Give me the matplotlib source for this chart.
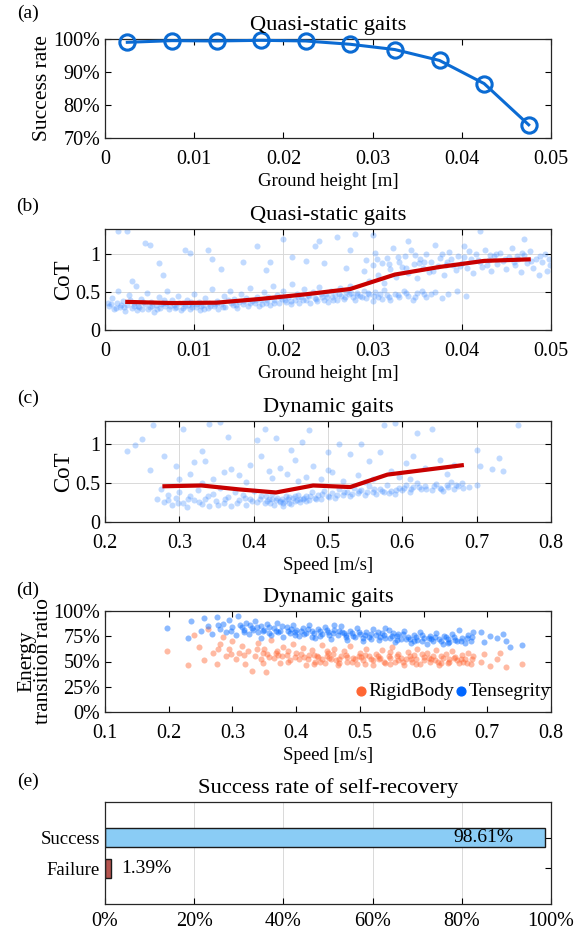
import numpy as np
import matplotlib
matplotlib.use("Agg")
import matplotlib.pyplot as plt

plt.rcParams['font.family'] = ['Liberation Serif', 'DejaVu Serif']
plt.rcParams['font.size'] = 13.5
plt.rcParams['axes.linewidth'] = 0.9
plt.rcParams['axes.edgecolor'] = '#262626'
plt.rcParams['xtick.direction'] = 'in'
plt.rcParams['ytick.direction'] = 'in'
plt.rcParams['xtick.top'] = True
plt.rcParams['ytick.right'] = True
plt.rcParams['xtick.major.size'] = 4
plt.rcParams['ytick.major.size'] = 4
plt.rcParams['xtick.major.pad'] = 8.5
plt.rcParams['ytick.major.pad'] = 3.5
plt.rcParams['xtick.labelsize'] = 14.5
plt.rcParams['ytick.labelsize'] = 14.5

# (a) success rate vs ground height
heights = [0.0025, 0.0075, 0.0125, 0.0175, 0.0225, 0.0275, 0.0325, 0.0375, 0.0425, 0.0475]
success_rate = [99.0, 99.5, 99.4, 99.6, 99.4, 98.4, 96.8, 93.5, 86.5, 74.0]

# (b) CoT quasi-static: mean line + scatter cloud
qs_cot_mean = [0.37, 0.355, 0.36, 0.41, 0.47, 0.54, 0.73, 0.83, 0.91, 0.93]
qs_points = [
    (0.0005,0.31),(0.0008,0.42),(0.0010,0.27),(0.0013,0.35),(0.0015,0.52),(0.0017,0.30),(0.0020,0.38),
    (0.0022,0.25),(0.0025,0.33),(0.0027,0.46),(0.0030,0.29),(0.0032,0.36),(0.0035,0.58),(0.0037,0.31),
    (0.0040,0.41),(0.0042,0.27),(0.0045,0.34),(0.0047,0.49),(0.0050,0.30),(0.0052,0.37),(0.0055,0.24),
    (0.0057,0.33),(0.0060,0.44),(0.0062,0.29),(0.0065,0.36),(0.0067,0.31),(0.0070,0.52),(0.0072,0.27),
    (0.0075,0.39),(0.0077,0.33),(0.0080,0.30),(0.0082,0.45),(0.0085,0.26),(0.0087,0.35),(0.0090,0.31),
    (0.0092,0.40),(0.0095,0.28),(0.0097,0.34),(0.0100,0.48),(0.0102,0.30),(0.0105,0.37),(0.0107,0.26),
    (0.0110,0.33),(0.0112,0.42),(0.0115,0.29),(0.0117,0.36),(0.0120,0.54),(0.0122,0.31),(0.0125,0.38),
    (0.0127,0.28),(0.0003,0.36),(0.0018,0.33),(0.0033,0.32),(0.0048,0.28),(0.0063,0.34),(0.0078,0.29),
    (0.0093,0.33),(0.0108,0.31),(0.0123,0.34),(0.0012,0.29),(0.0038,0.30),(0.0068,0.35),(0.0098,0.30),
    (0.0007,0.34),(0.0021,0.30),(0.0028,0.40),(0.0036,0.26),(0.0043,0.37),(0.0053,0.32),(0.0058,0.28),
    (0.0066,0.40),(0.0073,0.32),(0.0083,0.35),(0.0088,0.29),(0.0096,0.37),(0.0103,0.34),(0.0111,0.28),
    (0.0118,0.32),(0.0126,0.35),(0.0132,0.30),(0.0141,0.36),(0.0147,0.33),(0.0156,0.38),(0.0162,0.35),
    (0.0169,0.39),(0.0176,0.34),(0.0182,0.40),(0.0189,0.36),(0.0196,0.44),(0.0202,0.40),(0.0209,0.38),
    (0.0216,0.43),(0.0222,0.40),(0.0229,0.45),(0.0236,0.41),(0.0242,0.47),(0.0249,0.43),(0.0256,0.40),
    (0.0262,0.48),(0.0269,0.44),(0.0276,0.49),(0.0282,0.46),(0.0288,0.43),(0.0295,0.49),(0.0302,0.45),
    (0.0308,0.48),(0.0318,0.43),(0.0328,0.46),(0.0338,0.49),(0.0348,0.44),(0.0358,0.47),
    (0.0130,0.34),(0.0133,0.45),(0.0135,0.30),(0.0138,0.39),(0.0140,0.52),(0.0143,0.33),(0.0145,0.41),
    (0.0148,0.29),(0.0150,0.37),(0.0153,0.48),(0.0155,0.34),(0.0158,0.42),(0.0160,0.31),(0.0163,0.55),
    (0.0165,0.38),(0.0168,0.35),(0.0170,0.44),(0.0173,0.32),(0.0175,0.40),(0.0178,0.50),(0.0180,0.36),
    (0.0183,0.43),(0.0185,0.33),(0.0188,0.58),(0.0190,0.39),(0.0193,0.46),(0.0195,0.35),(0.0198,0.41),
    (0.0200,0.52),(0.0203,0.37),(0.0205,0.44),(0.0208,0.34),(0.0210,0.61),(0.0213,0.40),(0.0215,0.47),
    (0.0218,0.36),(0.0220,0.43),(0.0223,0.54),(0.0225,0.39),(0.0228,0.46),(0.0230,0.35),(0.0233,0.50),
    (0.0235,0.42),(0.0238,0.38),(0.0240,0.57),(0.0243,0.44),(0.0245,0.40),(0.0248,0.48),(0.0250,0.37),
    (0.0253,0.52),(0.0255,0.43),(0.0258,0.46),(0.0260,0.39),(0.0263,0.55),(0.0265,0.45),(0.0268,0.41),
    (0.0270,0.50),(0.0273,0.47),(0.0275,0.58),(0.0278,0.44),
    (0.0280,0.40),(0.0283,0.49),(0.0286,0.45),(0.0290,0.52),(0.0293,0.42),(0.0296,0.47),(0.0300,0.38),
    (0.0303,0.50),(0.0306,0.44),(0.0310,0.41),(0.0313,0.53),(0.0316,0.46),(0.0320,0.39),(0.0325,0.48),
    (0.0330,0.43),(0.0335,0.51),(0.0340,0.45),(0.0345,0.40),(0.0350,0.49),(0.0355,0.52),(0.0360,0.44),
    (0.0365,0.47),(0.0370,0.50),(0.0378,0.42),(0.0385,0.48),(0.0395,0.52),(0.0405,0.45),
    (0.0290,0.78),(0.0293,0.92),(0.0296,0.65),(0.0300,0.85),(0.0303,1.02),(0.0306,0.72),(0.0310,0.88),
    (0.0313,0.62),(0.0316,0.95),(0.0320,0.80),(0.0323,1.08),(0.0326,0.70),(0.0330,0.90),(0.0333,0.83),
    (0.0336,0.98),(0.0340,0.75),(0.0343,1.05),(0.0346,0.87),(0.0350,0.68),(0.0353,0.93),(0.0356,0.81),
    (0.0360,1.00),(0.0363,0.77),(0.0366,0.89),(0.0370,1.12),(0.0373,0.84),(0.0376,0.95),(0.0380,0.72),
    (0.0383,0.90),(0.0386,1.03),(0.0390,0.86),(0.0393,0.79),(0.0396,0.97),(0.0400,0.88),(0.0403,1.10),
    (0.0406,0.82),(0.0410,0.94),(0.0413,0.75),(0.0416,1.00),(0.0420,0.89),(0.0423,0.83),(0.0426,1.06),
    (0.0430,0.92),(0.0433,0.78),(0.0436,0.97),(0.0440,0.87),(0.0443,1.02),(0.0446,0.91),(0.0450,0.80),
    (0.0453,0.96),(0.0456,1.08),(0.0460,0.85),(0.0463,0.93),(0.0466,0.76),(0.0470,0.99),(0.0473,0.88),
    (0.0476,1.04),(0.0480,0.82),(0.0483,0.94),(0.0486,0.72),(0.0490,0.90),(0.0493,1.00),(0.0496,0.78),
    (0.0499,0.86),(0.0305,0.93),(0.0318,0.87),(0.0328,0.96),(0.0338,0.82),(0.0348,0.99),(0.0358,0.90),
    (0.0368,0.78),(0.0378,1.00),(0.0388,0.93),(0.0398,0.84),(0.0408,1.04),(0.0418,0.92),(0.0428,0.86),
    (0.0438,1.00),(0.0448,0.94),(0.0458,0.89),(0.0468,1.02),(0.0478,0.91),(0.0488,0.97),(0.0498,0.93),
    (0.0402,0.96),(0.0432,0.99),(0.0462,0.98),(0.0382,0.86),(0.0352,0.88),
    (0.0015,1.30),(0.0025,1.31),(0.0045,1.14),(0.0050,1.12),(0.0060,0.88),(0.0090,1.05),(0.0095,1.01),
    (0.0115,1.06),(0.0120,0.93),(0.0130,0.80),(0.0155,0.89),(0.0170,1.10),(0.0185,0.90),(0.0200,1.20),
    (0.0210,0.96),(0.0225,0.91),(0.0235,1.10),(0.0245,0.88),(0.0260,1.22),(0.0270,0.82),(0.0280,1.27),
    (0.0275,1.05),(0.0240,1.17),(0.0300,1.25),(0.0340,1.17),(0.0420,1.30),(0.0470,1.20),(0.0180,0.79),
    (0.0065,0.73),(0.0030,0.64),
]

# (c) CoT dynamic: mean line + scatter cloud
speeds_mean = [0.28, 0.33, 0.38, 0.43, 0.48, 0.53, 0.58, 0.63, 0.68]
dyn_cot_mean = [0.46, 0.47, 0.42, 0.38, 0.47, 0.45, 0.61, 0.67, 0.73]
dyn_points = [
    (0.270,0.30),(0.275,0.42),(0.280,0.26),(0.285,0.35),(0.290,0.22),(0.295,0.31),(0.300,0.38),
    (0.305,0.25),(0.310,0.19),(0.315,0.33),(0.320,0.28),(0.325,0.41),(0.330,0.23),(0.335,0.30),
    (0.340,0.20),(0.345,0.36),(0.350,0.27),(0.355,0.44),(0.360,0.24),(0.365,0.32),(0.370,0.21),
    (0.375,0.38),(0.380,0.28),(0.385,0.35),(0.390,0.22),(0.395,0.30),(0.400,0.40),(0.405,0.26),
    (0.410,0.33),(0.415,0.24),(0.420,0.29),(0.425,0.36),(0.428,0.22),(0.432,0.31),(0.436,0.27),
    (0.440,0.25),(0.443,0.34),(0.446,0.29),(0.450,0.23),(0.453,0.31),(0.456,0.27),(0.460,0.35),
    (0.463,0.26),(0.466,0.30),(0.470,0.33),(0.474,0.28),(0.478,0.38),(0.482,0.31),(0.486,0.35),
    (0.490,0.29),(0.495,0.40),(0.500,0.33),(0.505,0.37),(0.510,0.31),(0.515,0.42),(0.520,0.35),
    (0.525,0.39),(0.530,0.33),(0.535,0.44),(0.540,0.37),(0.545,0.41),(0.550,0.35),(0.555,0.46),
    (0.560,0.39),(0.565,0.36),(0.570,0.43),(0.575,0.38),(0.580,0.48),(0.585,0.40),(0.590,0.36),
    (0.595,0.44),(0.600,0.41),(0.605,0.47),(0.610,0.39),(0.615,0.45),(0.620,0.50),(0.625,0.42),
    (0.630,0.46),(0.640,0.41),(0.645,0.49),(0.650,0.44),(0.655,0.40),(0.660,0.47),(0.665,0.52),
    (0.670,0.43),(0.675,0.46),(0.680,0.50),(0.690,0.45),(0.700,0.48),(0.440,0.21),(0.425,0.30),
    (0.455,0.33),(0.435,0.26),(0.418,0.27),(0.447,0.24),(0.462,0.29),(0.430,0.28),(0.470,0.27),
    (0.285,0.28),(0.298,0.24),(0.312,0.30),(0.326,0.26),(0.338,0.33),(0.352,0.22),(0.362,0.29),
    (0.378,0.25),(0.388,0.31),(0.398,0.27),(0.408,0.30),(0.416,0.33),(0.422,0.25),(0.438,0.30),
    (0.442,0.27),(0.448,0.32),(0.458,0.28),(0.468,0.31),(0.476,0.34),(0.484,0.30),(0.492,0.36),
    (0.502,0.32),(0.512,0.35),(0.522,0.38),(0.532,0.36),(0.542,0.40),(0.552,0.38),(0.562,0.42),
    (0.572,0.40),(0.582,0.37),(0.592,0.41),(0.602,0.44),(0.612,0.42),(0.622,0.45),(0.632,0.43),
    (0.642,0.46),(0.652,0.42),(0.662,0.45),(0.672,0.48),(0.682,0.44),
    (0.230,0.92),(0.240,0.99),(0.250,1.07),(0.260,0.67),(0.265,1.25),(0.280,0.85),(0.295,0.72),
    (0.305,1.20),(0.315,0.62),(0.320,0.77),(0.330,0.92),(0.335,0.78),(0.340,1.26),(0.345,0.55),
    (0.355,1.29),(0.360,0.65),(0.365,1.10),(0.370,0.68),(0.380,0.60),(0.390,0.52),(0.395,0.73),
    (0.405,1.05),(0.410,0.85),(0.415,1.20),(0.420,0.66),(0.425,0.56),(0.430,1.08),(0.435,0.70),
    (0.445,0.62),(0.450,0.93),(0.455,0.80),(0.465,1.03),(0.470,0.58),(0.475,1.18),(0.480,0.72),
    (0.490,0.55),(0.500,0.90),(0.505,0.64),(0.515,1.00),(0.520,0.53),(0.530,0.88),(0.540,0.60),
    (0.545,1.00),(0.555,0.79),(0.560,0.55),(0.570,0.90),(0.575,1.25),(0.585,0.66),(0.590,1.27),
    (0.595,0.58),(0.605,0.76),(0.615,0.85),(0.620,1.15),(0.630,0.70),(0.640,1.20),(0.650,0.80),
    (0.660,0.62),(0.670,0.73),(0.700,0.93),(0.705,0.72),(0.720,0.68),(0.730,0.83),(0.735,0.66),
    (0.755,1.25),(0.300,0.55),(0.330,0.50),(0.460,0.53),(0.500,0.67),(0.550,0.52),(0.610,0.55),
]

# (d) energy transition ratio [%]
tensegrity_points = [
    (0.197,83),(0.230,73),(0.235,90),(0.250,80),(0.255,93),(0.262,85),(0.268,77),(0.275,94),(0.280,82),
    (0.285,87),(0.290,79),(0.295,91),(0.300,84),(0.305,76),(0.308,95),(0.312,86),(0.318,81),(0.322,88),
    (0.326,77),(0.330,83),(0.335,90),(0.340,79),(0.345,85),(0.350,81),(0.355,87),(0.360,76),(0.365,83),
    (0.370,88),(0.375,80),(0.380,74),(0.385,84),(0.390,78),(0.395,86),(0.400,81),(0.405,75),(0.410,83),
    (0.415,78),(0.420,86),(0.425,80),(0.430,73),(0.435,82),(0.440,77),(0.445,84),(0.450,79),(0.455,72),
    (0.460,81),(0.465,76),(0.470,85),(0.475,78),(0.480,71),(0.485,80),(0.490,75),(0.495,83),(0.500,77),
    (0.505,70),(0.510,79),(0.515,74),(0.520,82),(0.525,76),(0.530,71),(0.535,78),(0.540,73),(0.545,81),
    (0.550,75),(0.555,69),(0.560,77),(0.565,72),(0.570,80),(0.575,74),(0.580,68),(0.585,76),(0.590,71),
    (0.595,79),(0.600,73),(0.605,67),(0.610,75),(0.615,70),(0.620,78),(0.625,72),(0.630,67),(0.635,74),
    (0.640,69),(0.645,77),(0.650,71),(0.655,81),(0.660,73),(0.665,68),(0.670,76),(0.675,70),(0.678,79),
    (0.690,79),(0.695,69),(0.705,75),(0.715,73),(0.725,77),(0.730,70),(0.735,64),(0.755,66),(0.345,73),
    (0.425,74),(0.505,73),(0.585,70),(0.460,86),(0.540,83),(0.372,79),(0.412,77),(0.452,76),(0.492,74),
    (0.532,74),(0.572,72),(0.612,72),(0.652,70),(0.332,81),(0.392,82),(0.472,79),(0.552,78),(0.632,75),
    (0.278,86),(0.298,80),(0.315,84),(0.328,86),(0.338,84),(0.348,80),(0.358,84),(0.368,80),(0.378,85),
    (0.388,80),(0.398,79),(0.408,80),(0.418,82),(0.428,78),(0.438,80),(0.448,81),(0.458,78),(0.468,80),
    (0.478,76),(0.488,78),(0.498,79),(0.508,76),(0.518,77),(0.528,79),(0.538,76),(0.548,73),(0.558,75),
    (0.568,77),(0.578,72),(0.588,74),(0.598,76),(0.608,73),(0.618,74),(0.628,70),(0.638,72),(0.648,74),
    (0.658,70),(0.668,73),(0.676,74),(0.398,76),(0.438,75),(0.478,74),(0.518,72),(0.558,71),(0.598,70),
    (0.638,68),(0.358,78),(0.318,79),
]
rigid_points = [
    (0.197,60),(0.230,47),(0.240,76),(0.248,64),(0.255,51),(0.262,82),(0.270,58),(0.275,48),(0.280,67),
    (0.285,74),(0.290,55),(0.295,62),(0.300,70),(0.305,52),(0.310,58),(0.315,65),(0.320,48),(0.325,60),
    (0.330,41),(0.335,55),(0.340,68),(0.345,52),(0.350,62),(0.352,40),(0.355,57),(0.360,71),(0.365,53),
    (0.370,60),(0.375,49),(0.380,64),(0.385,56),(0.390,51),(0.395,67),(0.400,58),(0.405,52),(0.410,63),
    (0.415,47),(0.420,56),(0.425,61),(0.430,50),(0.435,54),(0.440,66),(0.445,49),(0.450,58),(0.455,52),
    (0.460,62),(0.465,47),(0.470,55),(0.475,60),(0.480,50),(0.485,65),(0.490,53),(0.495,48),(0.500,58),
    (0.505,51),(0.510,62),(0.515,55),(0.520,47),(0.525,57),(0.530,52),(0.535,61),(0.540,49),(0.545,55),
    (0.550,64),(0.555,50),(0.560,57),(0.565,53),(0.570,47),(0.575,59),(0.580,52),(0.585,56),(0.590,62),
    (0.595,48),(0.600,54),(0.605,58),(0.610,50),(0.615,55),(0.620,61),(0.625,47),(0.630,53),(0.635,57),
    (0.640,50),(0.645,60),(0.650,54),(0.655,49),(0.660,56),(0.665,52),(0.670,58),(0.675,48),(0.678,55),
    (0.690,50),(0.695,57),(0.705,46),(0.715,52),(0.720,58),(0.730,45),(0.755,48),(0.440,52),(0.480,54),
    (0.520,51),(0.560,51),(0.600,51),(0.640,52),(0.372,56),(0.412,54),(0.452,53),(0.492,52),(0.532,53),
    (0.572,52),(0.612,52),(0.652,51),(0.432,55),(0.462,51),(0.502,54),(0.582,50),(0.622,50),(0.662,50),
    (0.278,62),(0.298,57),(0.318,56),(0.338,62),(0.348,58),(0.358,54),(0.368,58),(0.378,55),(0.388,60),
    (0.398,54),(0.408,57),(0.418,52),(0.428,56),(0.438,50),(0.448,55),(0.458,57),(0.468,52),(0.478,56),
    (0.488,50),(0.498,55),(0.508,56),(0.518,52),(0.528,55),(0.538,50),(0.548,53),(0.558,55),(0.568,50),
    (0.578,55),(0.588,52),(0.598,57),(0.608,53),(0.618,51),(0.628,55),(0.638,49),(0.648,53),(0.658,52),
    (0.668,49),(0.676,52),(0.428,48),(0.468,49),(0.508,48),(0.548,48),(0.588,48),(0.628,49),(0.388,50),
    (0.348,49),(0.448,60),(0.548,59),
]

# (e) self-recovery
recovery_labels = ['Failure', 'Success']
recovery_values = [1.39, 98.61]
recovery_colors = ['#b5544f', '#8accf5']

W, H = 577, 933
fig = plt.figure(figsize=(W / 100, H / 100), dpi=100)


def add_ax(top, bottom, left=105, right=551):
    return fig.add_axes([left / W, 1 - bottom / H, (right - left) / W, (bottom - top) / H])


grid_kw = dict(color='#d9d9d9', linewidth=0.7)
scatter_blue = (0.25, 0.55, 1.0)
ylab_size = 15.5
title_pad = 6.5
xlab_pad = 3

# (a)
ax = add_ax(39, 138)
ax.plot(heights, success_rate, '-o', color='#0b6bd3', lw=2.2, ms=11,
        mfc='none', mew=2.2, clip_on=False, zorder=3)
ax.set_xlim(0, 0.05)
ax.set_ylim(70, 100)
ax.set_xticks([0, 0.01, 0.02, 0.03, 0.04, 0.05])
ax.set_xticklabels(['0', '0.01', '0.02', '0.03', '0.04', '0.05'])
ax.set_yticks([70, 80, 90, 100])
ax.set_yticklabels(['70%', '80%', '90%', '100%'])
ax.set_xlabel('Ground height [m]', labelpad=xlab_pad)
ax.set_ylabel('Success rate', labelpad=1, fontsize=ylab_size)
ax.set_title('Quasi-static gaits', pad=title_pad)

# (b)
ax = add_ax(229, 330)
qs = np.array(qs_points)
ax.grid(True, **grid_kw)
ax.set_axisbelow(True)
ax.scatter(qs[:, 0], qs[:, 1], s=19, color=scatter_blue, alpha=0.32, linewidths=0)
ax.plot(heights, qs_cot_mean, color='#c80000', lw=3)
ax.set_xlim(0, 0.05)
ax.set_ylim(0, 1.33)
ax.set_xticks([0, 0.01, 0.02, 0.03, 0.04, 0.05])
ax.set_xticklabels(['0', '0.01', '0.02', '0.03', '0.04', '0.05'])
ax.set_yticks([0, 0.5, 1])
ax.set_yticklabels(['0', '0.5', '1'])
ax.set_xlabel('Ground height [m]', labelpad=xlab_pad)
ax.set_ylabel('CoT', labelpad=1, fontsize=ylab_size + 1)
ax.set_title('Quasi-static gaits', pad=title_pad)

# (c)
ax = add_ax(421, 522)
dp = np.array(dyn_points)
ax.grid(True, **grid_kw)
ax.set_axisbelow(True)
ax.scatter(dp[:, 0], dp[:, 1], s=19, color=scatter_blue, alpha=0.32, linewidths=0)
ax.plot(speeds_mean, dyn_cot_mean, color='#c80000', lw=3)
ax.set_xlim(0.2, 0.8)
ax.set_ylim(0, 1.3)
ax.set_xticks([0.2, 0.3, 0.4, 0.5, 0.6, 0.7, 0.8])
ax.set_xticklabels(['0.2', '0.3', '0.4', '0.5', '0.6', '0.7', '0.8'])
ax.set_yticks([0, 0.5, 1])
ax.set_yticklabels(['0', '0.5', '1'])
ax.set_xlabel('Speed [m/s]', labelpad=xlab_pad)
ax.set_ylabel('CoT', labelpad=1, fontsize=ylab_size + 1)
ax.set_title('Dynamic gaits', pad=title_pad)

# (d)
ax = add_ax(611, 712)
rp = np.array(rigid_points)
tp = np.array(tensegrity_points)
ax.scatter(rp[:, 0], rp[:, 1], s=19, color=(1.0, 0.4, 0.2), alpha=0.45, linewidths=0)
ax.scatter(tp[:, 0], tp[:, 1], s=19, color=(0.0, 0.4, 1.0), alpha=0.45, linewidths=0)
h1 = ax.scatter([], [], s=40, color=(1.0, 0.4, 0.2))
h2 = ax.scatter([], [], s=40, color=(0.0, 0.4, 1.0))
ax.legend([h1, h2], ['RigidBody', 'Tensegrity'], ncol=2, loc='lower right',
          bbox_to_anchor=(1.0, 0.12), frameon=False, handlelength=0.5,
          handletextpad=0.15, columnspacing=0.1, borderaxespad=0, borderpad=0,
          fontsize=14)
ax.set_xlim(0.1, 0.8)
ax.set_ylim(0, 100)
ax.set_xticks([0.1, 0.2, 0.3, 0.4, 0.5, 0.6, 0.7, 0.8])
ax.set_xticklabels(['0.1', '0.2', '0.3', '0.4', '0.5', '0.6', '0.7', '0.8'])
ax.set_yticks([0, 25, 50, 75, 100])
ax.set_yticklabels(['0%', '25%', '50%', '75%', '100%'])
ax.set_xlabel('Speed [m/s]', labelpad=xlab_pad)
ax.set_ylabel('Energy\ntransition ratio', labelpad=0, linespacing=0.85, fontsize=ylab_size)
ax.set_title('Dynamic gaits', pad=title_pad)

# (e)
ax = add_ax(802, 904)
ax.grid(True, axis='x', **grid_kw)
ax.set_axisbelow(True)
ypos = np.arange(1, len(recovery_values) + 1)
ax.barh(ypos, recovery_values, height=0.6, color=recovery_colors,
        edgecolor='#1a1a1a', linewidth=1)
ax.text(recovery_values[1] - 7, ypos[1], f'{recovery_values[1]:.2f}%', ha='right', va='center', fontsize=14)
ax.text(recovery_values[0] + 2.3, ypos[0], f'{recovery_values[0]:.2f}%', ha='left', va='center', fontsize=14)
ax.set_xlim(0, 100)
ax.set_ylim(-0.15, 3.15)
ax.set_yticks(ypos)
ax.set_yticklabels(recovery_labels, fontsize=13.5)
ax.tick_params(axis='x', top=False, pad=6)
ax.set_xticks([0, 20, 40, 60, 80, 100])
ax.set_xticklabels(['0%', '20%', '40%', '60%', '80%', '100%'])
ax.set_title('Success rate of self-recovery', pad=title_pad)

# panel letters
for lab, y in zip(['(a)', '(b)', '(c)', '(d)', '(e)'], [13, 206, 398, 590, 781]):
    fig.text(28 / W, 1 - y / H, lab, ha='center', va='center', fontsize=14)

fig.savefig('out.png', dpi=100)
